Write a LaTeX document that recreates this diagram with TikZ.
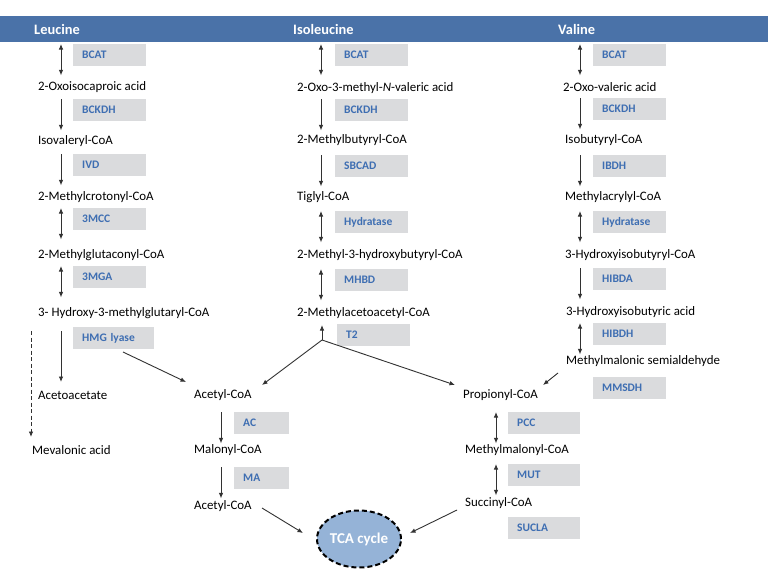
\documentclass[tikz,border=0pt]{standalone}
\usepackage{fontspec}
\setmainfont{Carlito}
\usetikzlibrary{arrows.meta,shapes.geometric}
\definecolor{hdr}{RGB}{74,114,168}
\definecolor{enz}{RGB}{62,110,178}
\definecolor{ebox}{RGB}{218,219,221}
\definecolor{tca}{RGB}{149,179,215}
\definecolor{arr}{RGB}{50,50,50}
\begin{document}
\begin{tikzpicture}[x=1pt,y=-1pt,
  met/.style={anchor=west, inner sep=0pt, font=\fontsize{12.9}{15}\selectfont},
  hdrtxt/.style={anchor=west, inner sep=0pt, text=white, font=\bfseries\fontsize{14.4}{16}\selectfont},
  enzbox/.style={anchor=north west, fill=ebox, inner xsep=9pt, inner ysep=0pt,
    minimum height=22pt, text width=55pt, align=left, text=enz,
    font=\bfseries\fontsize{11.5}{13}\selectfont},
  conn/.style={draw=arr, line width=0.9pt},
  fwd/.style={conn, -{Latex[length=5.5pt,width=4.5pt]}},
  both/.style={conn, {Latex[length=5.5pt,width=4.5pt]}-{Latex[length=5.5pt,width=4.5pt]}},
  dbl/.style={both},
]
\useasboundingbox (0,0) rectangle (768,576);
\fill[white] (0,0) rectangle (768,576);
% header
\fill[hdr] (0,16) rectangle (768,42);
\node[hdrtxt] (hL) at (34,29) {Leucine};
\node[hdrtxt] (hI) at (293,29) {Isoleucine};
\node[hdrtxt] (hV) at (558,29) {Valine};

% Leucine metabolites
\node[met] (lA) at (38,87) {2-Oxoisocaproic acid};
\node[met] (lB) at (38,141) {Isovaleryl-CoA};
\node[met] (lC) at (38,197) {2-Methylcrotonyl-CoA};
\node[met] (lD) at (38,255) {2-Methylglutaconyl-CoA};
\node[met] (lE) at (38,313) {3- Hydroxy-3-methylglutaryl-CoA};
\node[met] (lF) at (38,395) {Acetoacetate};
\node[met] (lG) at (32,450) {Mevalonic acid};
% Isoleucine metabolites
\node[met] (iA) at (297,88) {2-Oxo-3-methyl-\textit{N}-valeric acid};
\node[met] (iB) at (297,140) {2-Methylbutyryl-CoA};
\node[met] (iC) at (297,197) {Tiglyl-CoA};
\node[met] (iD) at (297,255) {2-Methyl-3-hydroxybutyryl-CoA};
\node[met] (iE) at (297,313) {2-Methylacetoacetyl-CoA};
% Valine metabolites
\node[met] (vA) at (563,87) {2-Oxo-valeric acid};
\node[met] (vB) at (565,140) {Isobutyryl-CoA};
\node[met] (vC) at (565,197) {Methylacrylyl-CoA};
\node[met] (vD) at (565,255) {3-Hydroxyisobutyryl-CoA};
\node[met] (vE) at (566,312) {3-Hydroxyisobutyric acid};
\node[met] (vF) at (566,361) {Methylmalonic semialdehyde};
% middle
\node[met] (aA) at (194,395) {Acetyl-CoA};
\node[met] (aB) at (194,450) {Malonyl-CoA};
\node[met] (aC) at (194,506) {Acetyl-CoA};
\node[met] (pA) at (463,395) {Propionyl-CoA};
\node[met] (pB) at (465,450) {Methylmalonyl-CoA};
\node[met] (pC) at (465,503) {Succinyl-CoA};

% enzymes
\node[enzbox] (eL1) at (73,44) {BCAT};
\node[enzbox] (eL2) at (73,99) {BCKDH};
\node[enzbox] (eL3) at (73,154) {IVD};
\node[enzbox] (eL4) at (73,208) {3MCC};
\node[enzbox] (eL5) at (73,266) {3MGA};
\node[enzbox, text width=63pt] (eL6) at (73,327) {HMG lyase};
\node[enzbox] (eI1) at (335,44) {BCAT};
\node[enzbox] (eI2) at (335,99) {BCKDH};
\node[enzbox] (eI3) at (335,155) {SBCAD};
\node[enzbox] (eI4) at (335,211) {Hydratase};
\node[enzbox] (eI5) at (335,269) {MHBD};
\node[enzbox] (eI6) at (337,324) {T2};
\node[enzbox] (eV1) at (593,44) {BCAT};
\node[enzbox] (eV2) at (593,98) {BCKDH};
\node[enzbox] (eV3) at (593,155) {IBDH};
\node[enzbox] (eV4) at (593,211) {Hydratase};
\node[enzbox] (eV5) at (593,268) {HIBDA};
\node[enzbox] (eV6) at (593,323) {HIBDH};
\node[enzbox] (eV7) at (593,377) {MMSDH};
\node[enzbox, text width=37pt] (eA1) at (234,412) {AC};
\node[enzbox, text width=37pt] (eA2) at (234,467) {MA};
\node[enzbox, text width=54pt] (eP1) at (508,412) {PCC};
\node[enzbox, text width=54pt] (eP2) at (508,464) {MUT};
\node[enzbox, text width=54pt] (eP3) at (508,517) {SUCLA};

% TCA cycle
\node[ellipse, draw=black, line width=2pt, dash pattern=on 5pt off 3pt, fill=tca,
  minimum width=84pt, minimum height=57pt, inner sep=0pt, text=white,
  font=\bfseries\fontsize{15}{17}\selectfont] (tca) at (359,539) {TCA cycle};

% vertical arrows along enzyme boxes
\foreach \e/\s/\dx in {eL1/dbl/12,eL2/fwd/12,eL3/fwd/12,eL4/dbl/12,eL5/dbl/12,
                       eI1/dbl/14,eI2/fwd/14,eI3/fwd/14,eI4/dbl/14,eI5/dbl/14,
                       eV1/dbl/13,eV2/fwd/13,eV3/fwd/13,eV4/dbl/13,eV5/fwd/13,eV6/dbl/13,
                       eA1/fwd/13,eA2/fwd/13,eP1/dbl/12,eP2/dbl/12}
  \draw[\s] ([xshift=-\dx pt]\e.north west) -- ([xshift=-\dx pt,yshift=-9pt]\e.south west);

% HMG lyase branches
\coordinate (hmgTop) at (61,331);
\coordinate (hmgBot) at (61,382);
\draw[fwd] (hmgTop) -- (hmgBot);
\coordinate (mevTop) at (31,331);
\coordinate (mevBot) at (31,437);
\draw[fwd, dash pattern=on 4pt off 2.5pt] (mevTop) -- (mevBot);
\coordinate (hmgA) at (123,352);
\coordinate (hmgB) at (186,382);
\draw[fwd] (hmgA) -- (hmgB);

% T2 fork
\coordinate (fork) at (322,340);
\coordinate (forkUp) at (322,325);
\coordinate (toAc) at (262,385);
\coordinate (toPr) at (455,385);
\draw[fwd] (fork) -- (forkUp);
\draw[fwd] (fork) -- (toAc);
\draw[fwd] (fork) -- (toPr);

% MMSDH to Propionyl
\coordinate (mmA) at (558,373);
\coordinate (mmB) at (543,385);
\draw[fwd] (mmA) -- (mmB);

% to TCA
\coordinate (tA) at (262,508);
\coordinate (tA2) at (303,533);
\coordinate (tB) at (457,510);
\coordinate (tB2) at (410,533);
\draw[fwd] (tA) -- (tA2);
\draw[fwd] (tB) -- (tB2);
\end{tikzpicture}
\end{document}
